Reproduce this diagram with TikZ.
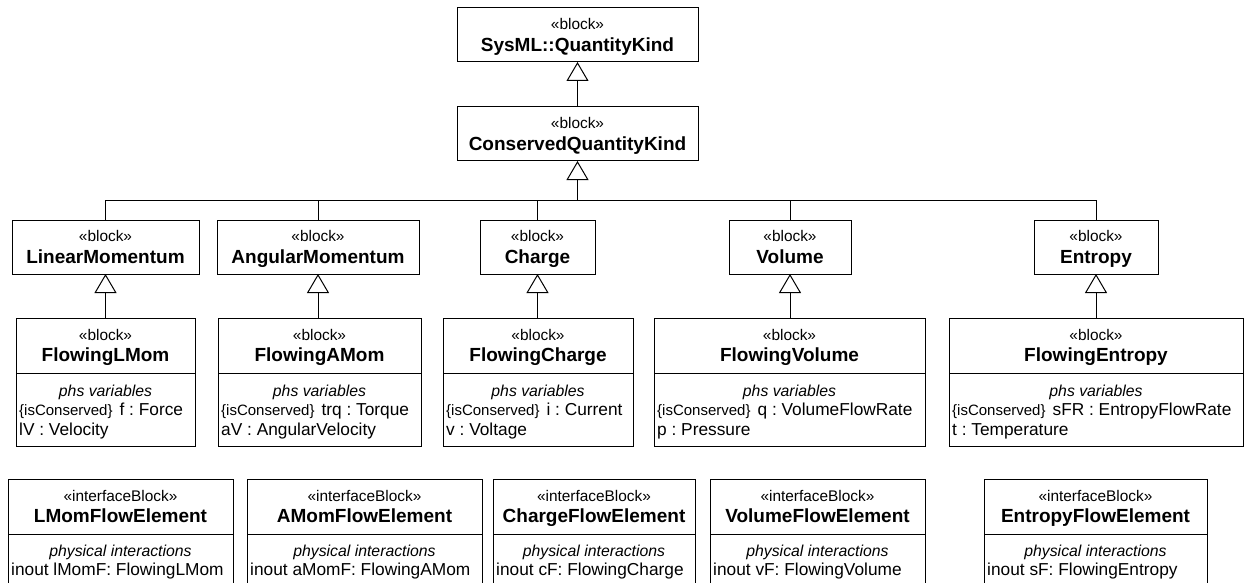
\documentclass[tikz,border=0pt]{standalone}
\usepackage{fontspec}
\setmainfont{Liberation Sans}
\usetikzlibrary{arrows.meta, positioning}
\frenchspacing

\newcommand{\stfont}{\fontsize{15.4}{21.5}\selectfont}
\newcommand{\nmfont}{\fontsize{19}{21.5}\selectfont\bfseries}
\newcommand{\cmpfont}{\fontsize{15.8}{19}\selectfont\itshape}
\newcommand{\varfont}{\fontsize{17.3}{20}\selectfont}
\newcommand{\consfont}{\fontsize{15}{20}\selectfont}

\tikzset{
  blk/.style={draw, line width=1pt, outer sep=0pt, inner sep=0pt, align=center,
    font=\stfont, text depth=0pt, minimum height=54},
  hdr/.style={blk, minimum height=55},
  cmp/.style={draw, line width=1pt, outer sep=0pt, inner sep=0pt},
  cmptitle/.style={inner sep=0pt, font=\cmpfont, text height=11pt, text depth=0pt},
  varline/.style={anchor=west, inner sep=0pt, font=\varfont, text height=12pt, text depth=0pt},
  gen/.style={-{Triangle[open, length=19pt, width=22pt]}, line width=1pt}
}

\begin{document}
\begin{tikzpicture}[x=1pt, y=-1pt]
\useasboundingbox (0,0) rectangle (1245,583);
\clip (0,0) rectangle (1245,583);

% top of the hierarchy
\node[blk, minimum width=241] (qk) at (577.5,35) {«block»\\\nmfont SysML::QuantityKind};
\node[blk, minimum width=241] (cqk) at (577.5,134) {«block»\\\nmfont ConservedQuantityKind};
\draw[gen] (cqk) -- (qk);

\coordinate (bus) at (577.5,200);
\draw[gen] (bus) -- (cqk);

% quantity kinds
\foreach \n/\cx/\w/\ttl in {lm/105.5/187/LinearMomentum, am/318/202/AngularMomentum,
    ch/537.5/115/Charge, vo/790/122/Volume, en/1096/124/Entropy}{
  \node[blk, minimum width=\w] (\n) at (\cx,247) {«block»\\\nmfont \ttl};
  \draw[line width=1pt] (\n.north) |- (bus);
}

% flowing blocks
\foreach \n/\pa/\cx/\w/\ttl/\flw/\eff in {
    fl/lm/105.5/179/FlowingLMom/f : Force/lV : Velocity,
    fa/am/319.5/203/FlowingAMom/trq : Torque/aV : AngularVelocity,
    fc/ch/538/190/FlowingCharge/i : Current/v : Voltage,
    fv/vo/789.5/271/FlowingVolume/q : VolumeFlowRate/p : Pressure,
    fe/en/1096/294/FlowingEntropy/sFR : EntropyFlowRate/t : Temperature}{
  \node[hdr, minimum width=\w] (\n) at (\cx,345.5) {«block»\\\nmfont \ttl};
  \node[cmp, minimum width=\w, minimum height=73, below=0pt of \n] (\n-c) {};
  \node[cmptitle] (\n-t) at ([yshift=-18]\n-c.north) {phs variables};
  \node[varline] (\n-f) at ([xshift=3, yshift=-36]\n-c.north west) {{\consfont\{isConserved\}}\hspace{7pt}\flw};
  \node[varline] (\n-e) at ([xshift=3, yshift=-56]\n-c.north west) {\eff};
  \draw[gen] (\n.north -| \pa.south) -- (\pa.south);
}

% flow elements
\foreach \n/\cx/\w/\ttl/\port in {
    le/120.5/225/LMomFlowElement/lMomF: FlowingLMom,
    ae/364.5/235/AMomFlowElement/aMomF: FlowingAMom,
    ce/594/202/ChargeFlowElement/cF: FlowingCharge,
    ve/817.5/215/VolumeFlowElement/vF: FlowingVolume,
    ee/1095.5/223/EntropyFlowElement/sF: FlowingEntropy}{
  \node[hdr, minimum width=\w] (\n) at (\cx,506.5) {«interfaceBlock»\\\nmfont \ttl};
  \node[cmp, minimum width=\w, minimum height=66, below=0pt of \n] (\n-c) {};
  \node[cmptitle] (\n-t) at ([yshift=-17]\n-c.north) {physical interactions};
  \node[varline] (\n-p) at ([xshift=3, yshift=-35]\n-c.north west) {inout \port};
}
\end{tikzpicture}
\end{document}
